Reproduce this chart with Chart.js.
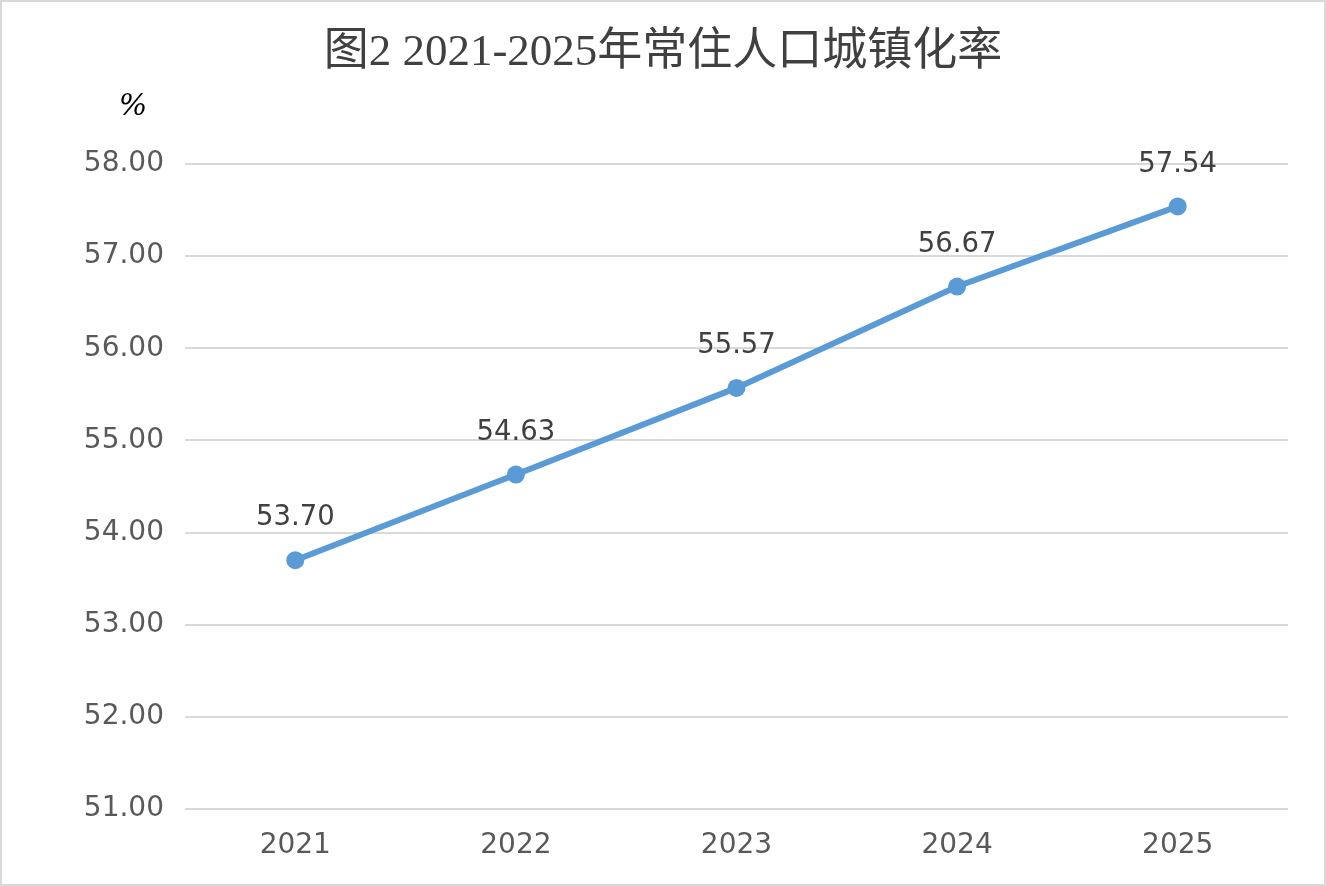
<!DOCTYPE html>
<html>
<head>
<meta charset="utf-8">
<script src="https://cdn.jsdelivr.net/npm/chart.js@4.4.1/dist/chart.umd.min.js"></script>
<style>
  html, body { margin: 0; padding: 0; background: #ffffff; }
  #wrap { box-sizing: border-box; width: 1326px; height: 886px; border: 2px solid #d9d9d9; background: #fff; }
  canvas { display: block; }
</style>
</head>
<body>
<div id="wrap"><canvas id="c" width="1322" height="882"></canvas></div>
<script>
const categories = ['2021', '2022', '2023', '2024', '2025'];
const urbanizationRate = [53.70, 54.63, 55.57, 56.67, 57.54];
const yMin = 51;
const yMax = 58;
const yStep = 1;
const titleText = '图2 2021-2025年常住人口城镇化率';
const unitText = '%';

const dataLabelPlugin = {
  id: 'dataLabels',
  afterDatasetsDraw(chart) {
    const ctx = chart.ctx;
    const meta = chart.getDatasetMeta(0);
    ctx.save();
    ctx.font = '27.5px "DejaVu Sans"';
    ctx.fillStyle = '#404040';
    ctx.textAlign = 'center';
    ctx.textBaseline = 'middle';
    meta.data.forEach((pt, i) => {
      const v = chart.data.datasets[0].data[i];
      ctx.fillText(v.toFixed(2), pt.x, pt.y - 42);
    });
    ctx.restore();
  }
};

const unitPlugin = {
  id: 'unitLabel',
  afterDraw(chart) {
    const ctx = chart.ctx;
    ctx.save();
    ctx.font = 'italic 30px "DejaVu Serif"';
    ctx.fillStyle = '#000000';
    ctx.textAlign = 'center';
    ctx.textBaseline = 'middle';
    ctx.fillText(unitText, 131, 105);
    ctx.restore();
  }
};

new Chart(document.getElementById('c'), {
  type: 'line',
  data: {
    labels: categories,
    datasets: [{
      data: urbanizationRate,
      borderColor: '#5b9bd5',
      backgroundColor: '#5b9bd5',
      borderWidth: 6,
      pointRadius: 9,
      pointHoverRadius: 9,
      pointBackgroundColor: '#5b9bd5',
      pointBorderColor: '#5b9bd5',
      pointBorderWidth: 0,
      tension: 0,
      fill: false
    }]
  },
  options: {
    responsive: false,
    animation: false,
    devicePixelRatio: 1,
    layout: { padding: { left: 0, right: 0, top: 0, bottom: 0 } },
    plugins: {
      legend: { display: false },
      tooltip: { enabled: false },
      title: {
        display: true,
        text: titleText,
        color: '#404040',
        font: { family: '"Liberation Serif", "Noto Sans CJK SC"', size: 45, weight: 'normal', lineHeight: 1.2 },
        padding: { top: 24, bottom: 84 }
      }
    },
    scales: {
      x: {
        type: 'category',
        offset: true,
        grid: { display: false, drawTicks: false },
        border: { display: false },
        ticks: { color: '#595959', font: { family: '"DejaVu Sans"', size: 28 }, padding: 20 },
        afterFit(scale) { scale.height = 75; }
      },
      y: {
        min: yMin,
        max: yMax,
        grid: { color: '#d9d9d9', lineWidth: 2, drawTicks: false },
        border: { display: false },
        ticks: {
          stepSize: yStep,
          color: '#595959',
          font: { family: '"DejaVu Sans"', size: 28 },
          padding: 21,
          callback: v => Number(v).toFixed(2)
        },
        afterFit(scale) { scale.width = 183; }
      },
      yRight: {
        position: 'right',
        min: yMin,
        max: yMax,
        grid: { display: false, drawTicks: false },
        border: { display: false },
        ticks: { display: false },
        afterFit(scale) { scale.width = 36; }
      }
    }
  },
  plugins: [dataLabelPlugin, unitPlugin]
});
</script>
</body>
</html>
